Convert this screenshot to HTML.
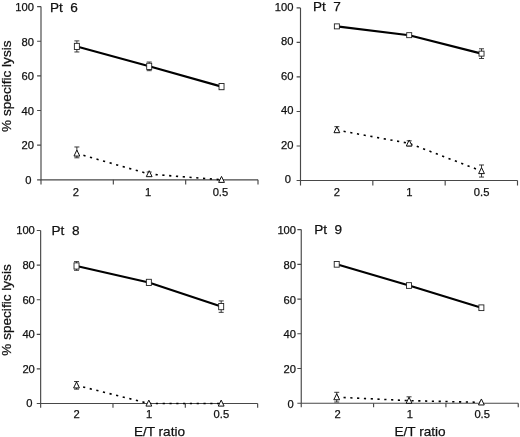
<!DOCTYPE html>
<html><head><meta charset="utf-8"><title>chart</title>
<style>
html,body{margin:0;padding:0;background:#fff;}
body{width:520px;height:437px;overflow:hidden;}
svg{display:block;will-change:transform;opacity:0.999;}
text{font-family:"Liberation Sans",sans-serif;fill:#111;stroke:#111;stroke-width:0.25px;}
.t{font-size:11.2px;}
.l{font-size:13.6px;}
</style></head><body>
<svg width="520" height="437" viewBox="0 0 520 437">
<rect width="520" height="437" fill="#fff"/>
<g>
<path d="M41.00 6.60V179.80H258.00" fill="none" stroke="#484848" stroke-width="1.15"/>
<path d="M37.10 179.80H41.00M37.10 145.16H41.00M37.10 110.52H41.00M37.10 75.88H41.00M37.10 41.24H41.00M37.10 6.60H41.00M41.00 179.80v4.8M113.33 179.80v4.8M185.67 179.80v4.8M258.00 179.80v4.8" fill="none" stroke="#484848" stroke-width="1.15"/>
<text class="t" x="31.60" y="184.10" text-anchor="end">0</text>
<text class="t" x="33.90" y="149.46" text-anchor="end">20</text>
<text class="t" x="33.90" y="114.82" text-anchor="end">40</text>
<text class="t" x="33.90" y="80.18" text-anchor="end">60</text>
<text class="t" x="33.90" y="45.54" text-anchor="end">80</text>
<text class="t" x="33.90" y="10.90" text-anchor="end">100</text>
<text class="t" x="75.77" y="195.60" text-anchor="middle">2</text>
<text class="t" x="148.10" y="195.60" text-anchor="middle">1</text>
<text class="t" x="220.43" y="195.60" text-anchor="middle">0.5</text>
<text class="l" x="49.90" y="11.70" xml:space="preserve">Pt  6</text>
<text class="l" transform="translate(11 86.20) rotate(-90)" text-anchor="middle">% specific lysis</text>
<polyline points="76.87,153.47 149.20,174.08 221.53,179.80" fill="none" stroke="#000" stroke-width="1.6" stroke-dasharray="2.2 4.6"/>
<polyline points="76.87,46.44 149.20,66.35 221.53,86.62" fill="none" stroke="#000" stroke-width="2.1" stroke-linejoin="round"/>
<path d="M76.87 40.89V51.98M74.37 40.89h5M74.37 51.98h5" stroke="#222" stroke-width="0.9" fill="none"/>
<rect x="74.37" y="43.34" width="5.0" height="6.2" fill="#fff" stroke="#222" stroke-width="0.9"/>
<path d="M149.20 62.02V70.68M146.70 62.02h5M146.70 70.68h5" stroke="#222" stroke-width="0.9" fill="none"/>
<rect x="146.70" y="63.25" width="5.0" height="6.2" fill="#fff" stroke="#222" stroke-width="0.9"/>
<path d="M221.53 84.02V89.22M219.03 84.02h5M219.03 89.22h5" stroke="#222" stroke-width="0.9" fill="none"/>
<rect x="219.03" y="83.52" width="5.0" height="6.2" fill="#fff" stroke="#222" stroke-width="0.9"/>
<path d="M76.87 146.98V157.80M74.37 146.98h5M74.37 157.80h5" stroke="#222" stroke-width="0.9" fill="none"/>
<path d="M76.87 150.07L79.77 156.07H73.97Z" fill="#fff" stroke="#111" stroke-width="1"/>
<path d="M149.20 172.01V176.16M146.70 172.01h5M146.70 176.16h5" stroke="#222" stroke-width="0.9" fill="none"/>
<path d="M149.20 170.68L152.10 176.68H146.30Z" fill="#fff" stroke="#111" stroke-width="1"/>
<path d="M221.53 176.40L224.43 182.40H218.63Z" fill="#fff" stroke="#111" stroke-width="1"/>
</g>
<g>
<path d="M300.50 7.90V180.50H517.50" fill="none" stroke="#484848" stroke-width="1.15"/>
<path d="M296.60 180.50H300.50M296.60 145.98H300.50M296.60 111.46H300.50M296.60 76.94H300.50M296.60 42.42H300.50M296.60 7.90H300.50M300.50 180.50v5.0M372.83 180.50v5.0M445.17 180.50v5.0M517.50 180.50v5.0" fill="none" stroke="#484848" stroke-width="1.15"/>
<text class="t" x="291.10" y="183.20" text-anchor="end">0</text>
<text class="t" x="293.40" y="148.68" text-anchor="end">20</text>
<text class="t" x="293.40" y="114.16" text-anchor="end">40</text>
<text class="t" x="293.40" y="79.64" text-anchor="end">60</text>
<text class="t" x="293.40" y="45.12" text-anchor="end">80</text>
<text class="t" x="293.40" y="10.60" text-anchor="end">100</text>
<text class="t" x="336.97" y="196.30" text-anchor="middle">2</text>
<text class="t" x="409.30" y="196.30" text-anchor="middle">1</text>
<text class="t" x="481.63" y="196.30" text-anchor="middle">0.5</text>
<text class="l" x="312.90" y="10.50" xml:space="preserve">Pt  7</text>
<polyline points="336.87,130.10 409.20,143.39 481.53,171.01" fill="none" stroke="#000" stroke-width="1.6" stroke-dasharray="2.2 4.6"/>
<polyline points="336.87,26.37 409.20,35.17 481.53,53.64" fill="none" stroke="#000" stroke-width="2.1" stroke-linejoin="round"/>
<rect x="334.37" y="23.87" width="5.0" height="5.0" fill="#fff" stroke="#222" stroke-width="0.9"/>
<rect x="406.70" y="32.67" width="5.0" height="5.0" fill="#fff" stroke="#222" stroke-width="0.9"/>
<path d="M481.53 48.81V58.47M479.03 48.81h5M479.03 58.47h5" stroke="#222" stroke-width="0.9" fill="none"/>
<rect x="479.03" y="51.14" width="5.0" height="5.0" fill="#fff" stroke="#222" stroke-width="0.9"/>
<path d="M336.87 126.65V132.52M334.37 126.65h5M334.37 132.52h5" stroke="#222" stroke-width="0.9" fill="none"/>
<path d="M336.87 126.70L339.77 132.70H333.97Z" fill="#fff" stroke="#111" stroke-width="1"/>
<path d="M409.20 140.80V145.98M406.70 140.80h5M406.70 145.98h5" stroke="#222" stroke-width="0.9" fill="none"/>
<path d="M409.20 139.99L412.10 145.99H406.30Z" fill="#fff" stroke="#111" stroke-width="1"/>
<path d="M481.53 164.97V177.05M479.03 164.97h5M479.03 177.05h5" stroke="#222" stroke-width="0.9" fill="none"/>
<path d="M481.53 167.61L484.43 173.61H478.63Z" fill="#fff" stroke="#111" stroke-width="1"/>
</g>
<g>
<path d="M40.65 230.50V403.50H257.65" fill="none" stroke="#484848" stroke-width="1.15"/>
<path d="M36.75 403.50H40.65M36.75 368.90H40.65M36.75 334.30H40.65M36.75 299.70H40.65M36.75 265.10H40.65M36.75 230.50H40.65M40.65 403.50v4.2M112.98 403.50v4.2M185.32 403.50v4.2M257.65 403.50v4.2" fill="none" stroke="#484848" stroke-width="1.15"/>
<text class="t" x="32.55" y="407.30" text-anchor="end">0</text>
<text class="t" x="34.85" y="372.70" text-anchor="end">20</text>
<text class="t" x="34.85" y="338.10" text-anchor="end">40</text>
<text class="t" x="34.85" y="303.50" text-anchor="end">60</text>
<text class="t" x="34.85" y="268.90" text-anchor="end">80</text>
<text class="t" x="34.85" y="234.30" text-anchor="end">100</text>
<text class="t" x="76.72" y="418.10" text-anchor="middle">2</text>
<text class="t" x="149.05" y="418.10" text-anchor="middle">1</text>
<text class="t" x="221.38" y="418.10" text-anchor="middle">0.5</text>
<text class="l" x="51.50" y="234.60" xml:space="preserve">Pt  8</text>
<text class="l" transform="translate(11 310.00) rotate(-90)" text-anchor="middle">% specific lysis</text>
<text class="l" x="159.45" y="435.5" text-anchor="middle">E/T ratio</text>
<polyline points="76.52,385.33 148.85,403.50 221.18,403.50" fill="none" stroke="#000" stroke-width="1.6" stroke-dasharray="2.2 4.6"/>
<polyline points="76.52,265.97 148.85,282.40 221.18,306.62" fill="none" stroke="#000" stroke-width="2.1" stroke-linejoin="round"/>
<path d="M76.52 261.64V270.29M74.02 261.64h5M74.02 270.29h5" stroke="#222" stroke-width="0.9" fill="none"/>
<rect x="74.02" y="262.87" width="5.0" height="6.2" fill="#fff" stroke="#222" stroke-width="0.9"/>
<path d="M148.85 280.67V284.13M146.35 280.67h5M146.35 284.13h5" stroke="#222" stroke-width="0.9" fill="none"/>
<rect x="146.35" y="279.30" width="5.0" height="6.2" fill="#fff" stroke="#222" stroke-width="0.9"/>
<path d="M221.18 300.91V312.33M218.68 300.91h5M218.68 312.33h5" stroke="#222" stroke-width="0.9" fill="none"/>
<rect x="218.68" y="303.52" width="5.0" height="6.2" fill="#fff" stroke="#222" stroke-width="0.9"/>
<path d="M76.52 381.53V389.14M74.02 381.53h5M74.02 389.14h5" stroke="#222" stroke-width="0.9" fill="none"/>
<path d="M76.52 381.94L79.42 387.94H73.62Z" fill="#fff" stroke="#111" stroke-width="1"/>
<path d="M148.85 400.10L151.75 406.10H145.95Z" fill="#fff" stroke="#111" stroke-width="1"/>
<path d="M221.18 400.10L224.08 406.10H218.28Z" fill="#fff" stroke="#111" stroke-width="1"/>
</g>
<g>
<path d="M301.25 229.60V403.25H518.25" fill="none" stroke="#484848" stroke-width="1.15"/>
<path d="M297.35 403.25H301.25M297.35 368.52H301.25M297.35 333.79H301.25M297.35 299.06H301.25M297.35 264.33H301.25M297.35 229.60H301.25M301.25 403.25v4.0M373.58 403.25v4.0M445.92 403.25v4.0M518.25 403.25v4.0" fill="none" stroke="#484848" stroke-width="1.15"/>
<text class="t" x="293.75" y="407.90" text-anchor="end">0</text>
<text class="t" x="296.05" y="373.17" text-anchor="end">20</text>
<text class="t" x="296.05" y="338.44" text-anchor="end">40</text>
<text class="t" x="296.05" y="303.71" text-anchor="end">60</text>
<text class="t" x="296.05" y="268.98" text-anchor="end">80</text>
<text class="t" x="296.05" y="234.25" text-anchor="end">100</text>
<text class="t" x="337.52" y="418.25" text-anchor="middle">2</text>
<text class="t" x="409.85" y="418.25" text-anchor="middle">1</text>
<text class="t" x="482.18" y="418.25" text-anchor="middle">0.5</text>
<text class="l" x="314.20" y="234.20" xml:space="preserve">Pt  9</text>
<text class="l" x="420.05" y="435.5" text-anchor="middle">E/T ratio</text>
<polyline points="336.72,397.17 409.05,400.65 481.38,402.38" fill="none" stroke="#000" stroke-width="1.6" stroke-dasharray="2.2 4.6"/>
<polyline points="336.72,264.33 409.05,285.52 481.38,307.74" fill="none" stroke="#000" stroke-width="2.1" stroke-linejoin="round"/>
<rect x="334.22" y="261.48" width="5.0" height="5.7" fill="#fff" stroke="#222" stroke-width="0.9"/>
<rect x="406.55" y="282.67" width="5.0" height="5.7" fill="#fff" stroke="#222" stroke-width="0.9"/>
<rect x="478.88" y="304.89" width="5.0" height="5.7" fill="#fff" stroke="#222" stroke-width="0.9"/>
<path d="M336.72 392.31V402.03M334.22 392.31h5M334.22 402.03h5" stroke="#222" stroke-width="0.9" fill="none"/>
<path d="M336.72 393.77L339.62 399.77H333.82Z" fill="#fff" stroke="#111" stroke-width="1"/>
<path d="M409.05 396.82V403.25M406.55 396.82h5M406.55 403.25h5" stroke="#222" stroke-width="0.9" fill="none"/>
<path d="M409.05 397.25L411.95 403.25H406.15Z" fill="#fff" stroke="#111" stroke-width="1"/>
<path d="M481.38 398.98L484.28 404.98H478.48Z" fill="#fff" stroke="#111" stroke-width="1"/>
</g>
</svg>
</body></html>
